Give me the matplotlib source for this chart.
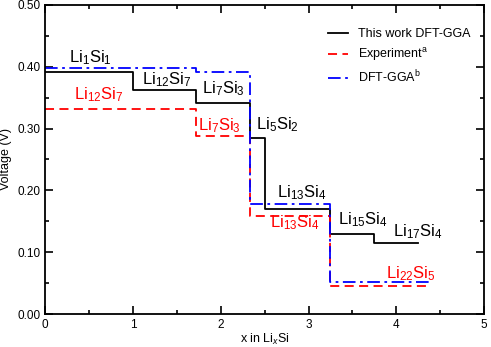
import matplotlib
matplotlib.use("Agg")
import matplotlib.pyplot as plt
from matplotlib.ticker import MultipleLocator

plt.rcParams['font.family'] = ['Liberation Sans', 'DejaVu Sans']
plt.rcParams['mathtext.fontset'] = 'custom'
plt.rcParams['mathtext.rm'] = 'Liberation Sans'
plt.rcParams['mathtext.it'] = 'Liberation Sans:italic'

# step edges (x in LixSi) and voltage plateaus
work_x = [0, 1.0, 1.714, 2.333, 2.5, 3.25, 3.75, 4.25]
work_v = [0.392, 0.3625, 0.341, 0.285, 0.170, 0.129, 0.115]
exp_x = [0, 1.714, 2.333, 3.25, 4.4]
exp_v = [0.332, 0.288, 0.158, 0.045]
gga_x = [0, 1.714, 2.333, 3.25, 4.4]
gga_v = [0.398, 0.391, 0.178, 0.051]

black_labels = [("Li$_1$Si$_1$", 0.51, 0.414), ("Li$_{12}$Si$_7$", 1.38, 0.379),
                ("Li$_7$Si$_3$", 2.03, 0.364), ("Li$_5$Si$_2$", 2.65, 0.306),
                ("Li$_{13}$Si$_4$", 2.92, 0.197), ("Li$_{15}$Si$_4$", 3.62, 0.152),
                ("Li$_{17}$Si$_4$", 4.24, 0.134)]
red_labels = [("Li$_{12}$Si$_7$", 0.61, 0.354), ("Li$_7$Si$_3$", 1.98, 0.304),
              ("Li$_{13}$Si$_4$", 2.84, 0.147), ("Li$_{22}$Si$_5$", 4.16, 0.065)]

fig = plt.figure(figsize=(4.91, 3.47), dpi=100)
ax = fig.add_axes([0.092, 0.095, 0.894, 0.891])

ax.step(work_x, work_v + work_v[-1:], where='post', color='black', lw=1.3,
        label='This work DFT-GGA')
ax.step(exp_x, exp_v + exp_v[-1:], where='post', color='red', lw=1.3,
        dashes=(5, 3), label=r'Experiment$^\mathrm{a}$')
ax.step(gga_x, gga_v + gga_v[-1:], where='post', color='blue', lw=1.3,
        dashes=(7, 2.5, 1.5, 2.5), label=r'DFT-GGA$^\mathrm{b}$')

for t, x, y in black_labels:
    ax.text(x, y, t, color='black', fontsize=12, ha='center', va='center')
for t, x, y in red_labels:
    ax.text(x, y, t, color='red', fontsize=12, ha='center', va='center')

ax.set_xlim(0, 5)
ax.set_ylim(0, 0.5)
ax.xaxis.set_major_locator(MultipleLocator(1))
ax.xaxis.set_minor_locator(MultipleLocator(0.5))
ax.yaxis.set_major_locator(MultipleLocator(0.1))
ax.yaxis.set_minor_locator(MultipleLocator(0.05))
ax.yaxis.set_major_formatter(lambda v, p: f"{v:.2f}")
ax.tick_params(which='both', direction='in', top=True, right=True, labelsize=8.5, width=1.2)
ax.tick_params(which='major', length=6)
ax.tick_params(which='minor', length=3)
for s in ax.spines.values():
    s.set_linewidth(1.3)

ax.set_xlabel('x in Li$_x$Si', fontsize=9, labelpad=1)
ax.set_ylabel('Voltage (V)', fontsize=9, labelpad=4)

ax.legend(loc='upper right', frameon=False, fontsize=9, handlelength=1.6,
          bbox_to_anchor=(0.995, 0.96), labelspacing=0.45)

fig.savefig('out.png', dpi=100)
